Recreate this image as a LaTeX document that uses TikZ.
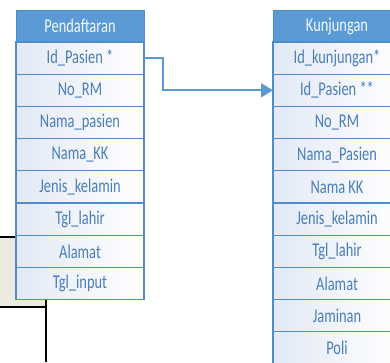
\documentclass[tikz,border=0pt]{standalone}
\usepackage{fontspec}
\usetikzlibrary{
    arrows.meta,
    positioning
}
\newfontfamily\tabfont[FakeStretch=0.74]{Carlito}
\definecolor{headblue}{HTML}{5B9BD5}
\definecolor{lineblue}{HTML}{4F8CCB}
\definecolor{textblue}{HTML}{4A7EBB}
\definecolor{rowleft}{HTML}{E2E9F5}
\definecolor{beige}{HTML}{EDEAE0}
\tikzset{
    head/.style = {rectangle, draw=lineblue, fill=headblue, line width=1pt, outer sep=0, inner sep=0,
        minimum width=128, minimum height=32, text=white!92!headblue,
        font=\tabfont\fontsize{19.5}{20}\selectfont},
    field/.style = {rectangle, draw=lineblue, left color=rowleft, right color=white, line width=1.2pt,
        outer sep=0, inner sep=0, minimum width=128, minimum height=32.2, text=textblue,
        font=\tabfont\fontsize{19.5}{20}\selectfont},
    link/.style = {draw=headblue, line width=1.8pt, -{Triangle[length=12pt,width=14pt]}}
}

\begin{document}
\begin{tikzpicture}[x=1pt, y=-1pt, node distance=0pt]
    \useasboundingbox (0,0) rectangle (390,362);

    % box behind the left table
    \fill[beige] (0,237) rectangle (46,307);
    \draw[black, line width=1.5pt] (0,237) -- (46,237);
    \draw[black, line width=1.5pt] (0,307) -- (46,307);
    \draw[black, line width=1.5pt] (46,237) -- (46,362);

    % Pendaftaran
    \node[head] (P0) at (80,26) {Pendaftaran};
    \node[field] (P1) [below=of P0] {Id\_Pasien *};
    \node[field] (P2) [below=of P1] {No\_RM};
    \node[field] (P3) [below=of P2] {Nama\_pasien};
    \node[field] (P4) [below=of P3] {Nama\_KK};
    \node[field] (P5) [below=of P4] {Jenis\_kelamin};
    \node[field] (P6) [below=of P5] {Tgl\_lahir};
    \node[field] (P7) [below=of P6] {Alamat};
    \node[field] (P8) [below=of P7] {Tgl\_input};

    % Kunjungan
    \node[head] (K0) at (337,26) {Kunjungan};
    \node[field] (K1) [below=of K0] {Id\_kunjungan*};
    \node[field] (K2) [below=of K1] {Id\_Pasien **};
    \node[field] (K3) [below=of K2] {No\_RM};
    \node[field] (K4) [below=of K3] {Nama\_Pasien};
    \node[field] (K5) [below=of K4] {Nama KK};
    \node[field] (K6) [below=of K5] {Jenis\_kelamin};
    \node[field] (K7) [below=of K6] {Tgl\_lahir};
    \node[field] (K8) [below=of K7] {Alamat};
    \node[field] (K9) [below=of K8] {Jaminan};
    \node[field] (K10) [below=of K9] {Poli};

    \draw[link] (P1.east) -- ++(19,0) |- (K2.west);
\end{tikzpicture}
\end{document}
